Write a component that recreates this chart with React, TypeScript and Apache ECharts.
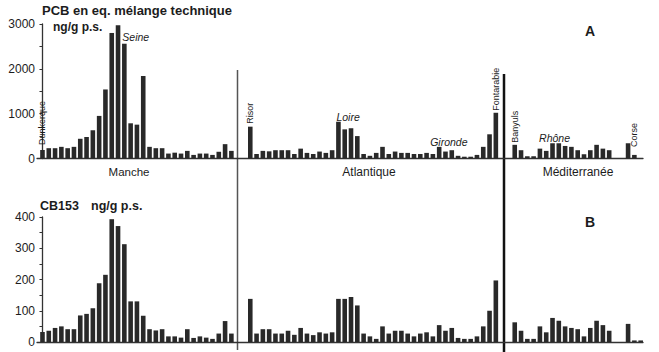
import React, { useEffect, useRef } from "react";
import * as echarts from "echarts";

// ---- Data ----
// Panel A: PCB en eq. mélange technique (ng/g p.s.)
const mancheA = [190, 230, 230, 260, 230, 260, 440, 480, 630, 950, 1540, 2800, 2970, 2560, 785, 755, 1840, 260, 230, 230, 110, 130, 110, 170, 80, 110, 110, 80, 150, 320, 170];
const atlantiqueA = [710, 100, 170, 160, 185, 185, 185, 100, 220, 125, 100, 155, 125, 185, 820, 650, 675, 500, 100, 60, 125, 260, 100, 155, 125, 125, 100, 100, 125, 100, 260, 155, 185, 60, 40, 40, 80, 260, 540, 1020];
const mediterraneeA: (number | null)[] = [305, 185, 50, 50, 220, 170, 340, 340, 280, 260, 185, 95, 185, 305, 220, 185, null, null, 340, 80, null];

// Panel B: CB153 (ng/g p.s.)
const mancheB = [32, 36, 45, 50, 41, 41, 85, 90, 108, 188, 215, 393, 371, 313, 130, 130, 84, 41, 37, 41, 18, 18, 14, 41, 13, 18, 14, 10, 27, 67, 27];
const atlantiqueB = [138, 27, 41, 41, 27, 27, 36, 23, 45, 27, 22, 31, 27, 31, 138, 138, 144, 117, 27, 18, 10, 50, 27, 36, 36, 27, 18, 27, 31, 18, 54, 36, 45, 13, 10, 10, 18, 50, 100, 197];
const mediterraneeB: (number | null)[] = [63, 36, 10, 10, 50, 31, 77, 68, 50, 45, 41, 18, 45, 68, 54, 36, null, null, 58, 5, 5];

const regionNames = ["Manche", "Atlantique", "Méditerranée"];
const yTicksA = [0, 1000, 2000, 3000];
const yTicksB = [0, 100, 200, 300, 400];
const gapSlots = 2;

// station labels of panel A: [region index, station index, text, kind]
const stationLabels: [number, number, string, string][] = [
  [0, 0, "Dunkerque", "vertical"],
  [0, 13, "Seine", "italic"],
  [1, 0, "Risor", "vertical"],
  [1, 14, "Loire", "italic"],
  [1, 30, "Gironde", "italic"],
  [1, 39, "Fontarabie", "vertical"],
  [2, 0, "Banyuls", "vertical"],
  [2, 6, "Rhône", "italic"],
  [2, 19, "Corse", "vertical"],
];

const FONT = "'Liberation Sans', Arial, Helvetica, sans-serif";
const INK = "#1c1c1c";
const BAR = "#292929";

const labelStyle: Record<string, any> = {
  Dunkerque: { distance: 5 },
  Risor: { distance: 3 },
  Fontarabie: { distance: 2 },
  Banyuls: { distance: 2 },
  Corse: { distance: 8 },
  Seine: { align: "left", offset: [-2, -1] },
  Loire: { align: "left", offset: [-2, 1] },
  Gironde: { align: "left", offset: [-9, 1] },
  Rhône: { align: "center", offset: [2, 0] },
};

function buildData(regions: (number | null)[][], withLabels: boolean) {
  const out: any[] = [];
  let start = 0;
  regions.forEach((vals, r) => {
    vals.forEach((v, i) => {
      if (v == null) return;
      const item: any = { value: [start + i, v] };
      if (withLabels) {
        const lab = stationLabels.find((s) => s[0] === r && s[1] === i);
        if (lab) {
          const st = labelStyle[lab[2]] || {};
          if (lab[3] === "vertical") {
            item.label = {
              show: true,
              formatter: lab[2],
              position: "top",
              rotate: 90,
              align: "left",
              verticalAlign: "middle",
              distance: st.distance ?? 3,
              fontSize: 9,
              fontFamily: FONT,
              color: INK,
            };
          } else {
            item.label = {
              show: true,
              formatter: lab[2],
              position: "top",
              align: st.align,
              verticalAlign: "bottom",
              offset: st.offset,
              distance: 0,
              fontSize: 10.5,
              fontStyle: "italic",
              fontFamily: FONT,
              color: INK,
            };
          }
        }
      }
      out.push(item);
    });
    start += vals.length + gapSlots;
  });
  return out;
}

export default function App() {
  const ref = useRef<HTMLDivElement>(null);

  useEffect(() => {
    if (!ref.current) return;
    const chart = echarts.init(ref.current, undefined, { renderer: "svg" });

    const xAxisBase = (g: number) => ({
      type: "value",
      gridIndex: g,
      min: -0.87,
      max: 95.37,
      axisLine: { show: true, onZero: true, lineStyle: { color: "#333", width: 1.3 } },
      axisTick: { show: false },
      axisLabel: { show: false },
      splitLine: { show: false },
    });
    const yAxisBase = (g: number, max: number, interval: number, ticks: number[]) => ({
      type: "value",
      gridIndex: g,
      min: 0,
      max,
      interval,
      axisLine: { show: true, lineStyle: { color: "#333", width: 1.3 } },
      axisTick: { show: true, length: 3, lineStyle: { color: "#333" } },
      axisLabel: {
        margin: 2,
        fontSize: 12,
        color: INK,
        fontFamily: FONT,
        formatter: (v: number) => (ticks.includes(v) ? String(v) : ""),
      },
      splitLine: { show: false },
    });

    const text = (x: number, y: number, t: string, size: number, weight: string, align = "left") => ({
      type: "text",
      x,
      y,
      style: {
        text: t,
        fontSize: size,
        fontWeight: weight,
        fontFamily: FONT,
        fill: INK,
        textAlign: align,
        textVerticalAlign: "middle",
      },
    });

    chart.setOption({
      animation: false,
      backgroundColor: "#ffffff",
      grid: [
        { left: 37, top: 24, width: 606, height: 134.5 },
        { left: 37, top: 217, width: 606, height: 125 },
      ],
      xAxis: [xAxisBase(0), xAxisBase(1)],
      yAxis: [yAxisBase(0, 3000, 500, yTicksA), yAxisBase(1, 400, 50, yTicksB)],
      series: [
        {
          type: "bar",
          xAxisIndex: 0,
          yAxisIndex: 0,
          barWidth: 4.6,
          itemStyle: { color: BAR },
          data: buildData([mancheA, atlantiqueA, mediterraneeA], true),
        },
        {
          type: "bar",
          xAxisIndex: 1,
          yAxisIndex: 1,
          barWidth: 4.6,
          itemStyle: { color: BAR },
          data: buildData([mancheB, atlantiqueB, mediterraneeB], false),
        },
      ],
      graphic: [
        { type: "line", shape: { x1: 237.5, y1: 70, x2: 237.5, y2: 350 }, style: { stroke: "#555", lineWidth: 1.5 } },
        { type: "line", shape: { x1: 504, y1: 74, x2: 504, y2: 352 }, style: { stroke: "#111", lineWidth: 2.5 } },
        text(42, 10, "PCB en eq. mélange technique", 13, "bold"),
        text(53, 27, "ng/g p.s.", 12, "bold"),
        text(40, 206, "CB153", 12.5, "bold"),
        text(91, 206, "ng/g p.s.", 12.5, "bold"),
        text(590, 31, "A", 14, "bold", "center"),
        text(590, 222, "B", 14, "bold", "center"),
        text(129, 172, regionNames[0], 11.5, "normal", "center"),
        text(369, 172, regionNames[1], 12, "normal", "center"),
        text(578, 172, regionNames[2], 12, "normal", "center"),
      ],
    });

    return () => chart.dispose();
  }, []);

  return (
    <div
      ref={ref}
      style={{ position: "fixed", left: 0, top: 0, width: 659, height: 352, background: "#fff" }}
    />
  );
}
